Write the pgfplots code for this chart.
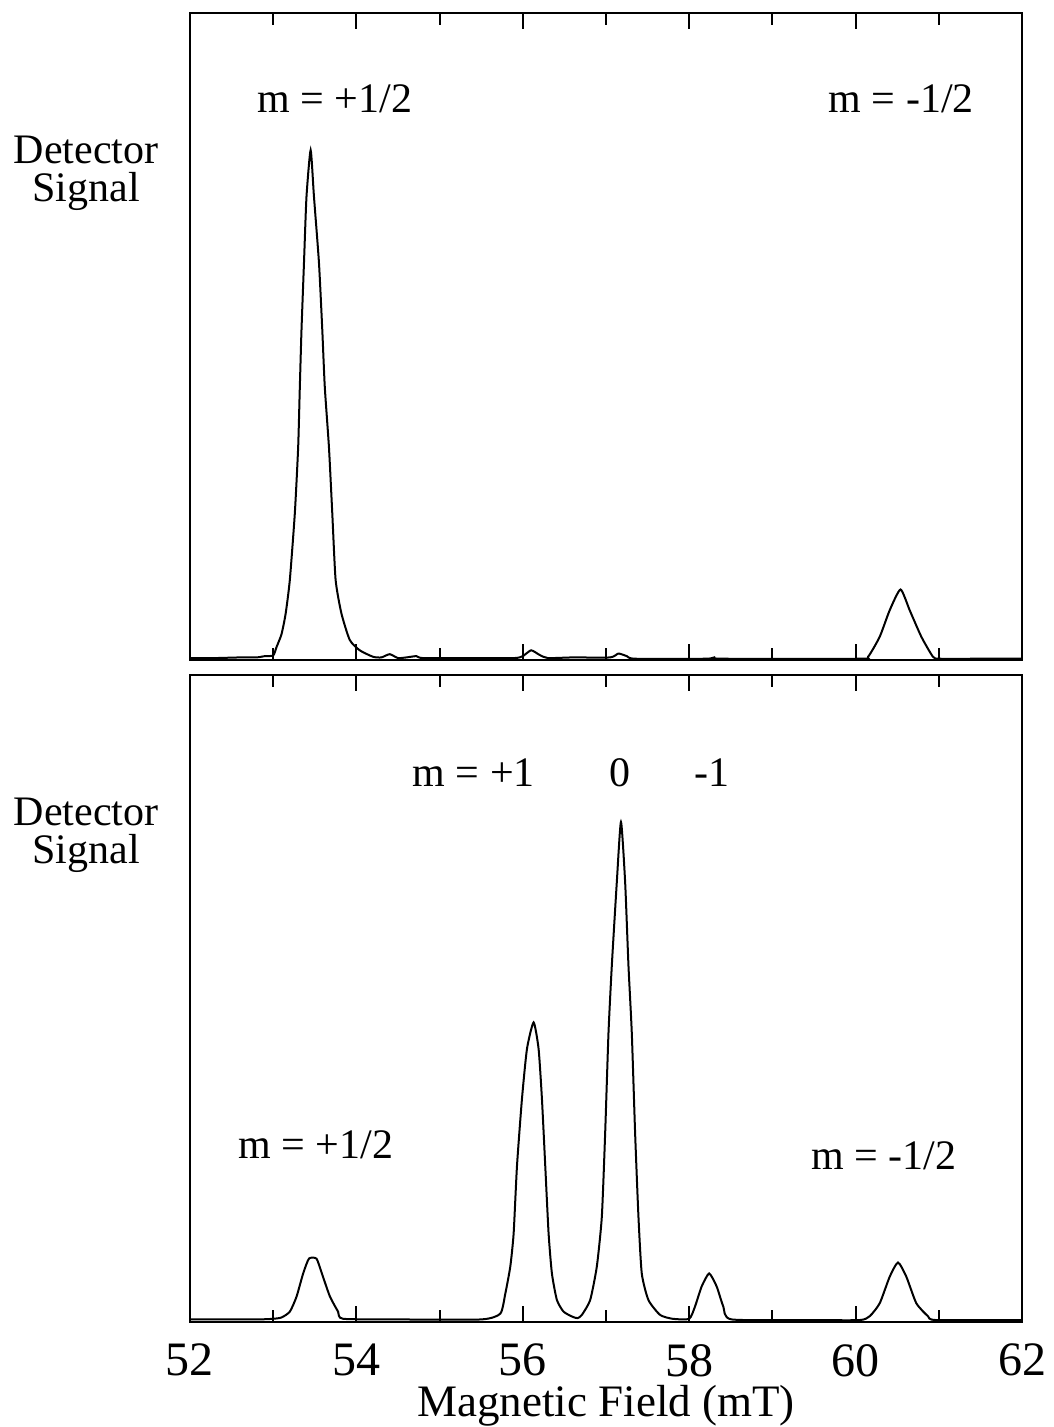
\documentclass[border=0pt]{standalone}
\usepackage{pgfplots}
\pgfplotsset{compat=1.18}
\usepackage{fontspec}
\setmainfont{Liberation Serif}

\pgfplotsset{
  spec/.style={
    scale only axis, width=208pt, height=161.75pt,
    xmin=52, xmax=62, ymin=0, ymax=100,
    ytick=\empty,
    xtick={52,54,...,62}, minor xtick={53,55,...,61},
    tick align=inside,
    major tick length=4pt, minor tick length=3pt,
    every tick/.style={black, line width=0.5pt},
    axis line style={line width=0.6pt},
    /pgf/number format/assume math mode=true,
    tick label style={font=\fontsize{12}{14}\selectfont},
    xticklabel style={yshift=-2pt},
    clip=false,
  },
}
\tikzset{
  sig/.style={black, line width=0.5pt, mark=none, smooth, tension=0.35},
  ann/.style={font=\fontsize{10.5}{12}\selectfont, anchor=base},
}

\begin{document}
\begin{tikzpicture}
\useasboundingbox (0,0) rectangle (263.25pt,-356.75pt);

% upper trace
\begin{axis}[spec, at={(47.5pt,-3.25pt)}, anchor=north west, xticklabels={}]
\addplot[sig] coordinates {
(52.00,0.3) (52.30,0.3) (52.60,0.4) (52.80,0.4) (52.90,0.6) (53.00,0.7)
(53.04,2.0) (53.10,4.0) (53.15,7.2) (53.20,12.4) (53.26,22.7) (53.30,32.9)
(53.32,42.2) (53.34,51.0) (53.37,61.4) (53.40,71.6) (53.45,78.8)
(53.49,71.6) (53.55,61.4) (53.59,51.0) (53.62,42.2) (53.67,32.9)
(53.71,22.7) (53.75,12.4) (53.82,7.2) (53.92,3.1) (54.04,1.5) (54.20,0.5)
(54.30,0.4) (54.40,0.9) (54.50,0.3) (54.60,0.4) (54.72,0.6) (54.80,0.3)
(55.40,0.3) (55.90,0.3) (56.00,0.6) (56.10,1.5) (56.20,0.8) (56.30,0.3)
(56.60,0.4) (57.05,0.4) (57.15,1.0) (57.25,0.6) (57.35,0.2) (58.20,0.2)
(58.30,0.4) (58.40,0.2) (60.05,0.2) (60.15,0.5) (60.29,3.6) (60.41,7.7)
(60.54,10.9) (60.65,7.7) (60.79,3.6) (60.93,0.5) (61.01,0.2) (61.50,0.2)
(62.00,0.2)
};
\node[ann] at (axis cs:53.74,84.7) {m = +1/2};
\node[ann] at (axis cs:60.55,84.7) {m = -1/2};
\end{axis}

% lower trace
\begin{axis}[spec, at={(47.5pt,-168.75pt)}, anchor=north west]
\addplot[sig] coordinates {
(52.00,0.4) (52.80,0.4) (53.00,0.5) (53.10,0.7) (53.20,1.6) (53.28,3.9)
(53.36,7.5) (53.43,9.8) (53.52,9.8) (53.58,7.7) (53.68,4.0) (53.78,1.6)
(53.84,0.5) (54.50,0.4) (55.50,0.4) (55.73,1.3) (55.79,4.4) (55.85,8.6)
(55.89,13.7) (55.93,24.1) (55.99,34.5) (56.05,42.2) (56.13,46.3)
(56.19,42.2) (56.23,34.5) (56.27,24.1) (56.31,13.7) (56.35,7.5)
(56.41,3.4) (56.49,1.6) (56.60,0.8) (56.66,0.6) (56.71,1.1) (56.81,3.4)
(56.89,8.6) (56.95,16.3) (56.99,29.2) (57.03,44.7) (57.07,55.1)
(57.13,68.0) (57.18,77.3) (57.23,68.0) (57.27,55.1) (57.31,44.7)
(57.35,29.2) (57.39,16.3) (57.43,7.5) (57.51,3.4) (57.65,1.1) (57.80,0.5)
(58.00,0.5) (58.07,2.4) (58.15,5.5) (58.24,7.5) (58.33,5.5) (58.41,2.4)
(58.51,0.4) (59.50,0.3) (60.05,0.3) (60.17,0.9) (60.29,2.9) (60.41,7.0)
(60.51,9.2) (60.61,7.0) (60.73,2.9) (60.87,0.9) (60.97,0.3) (62.00,0.3)
};
\node[ann] at (axis cs:55.41,82.7) {m = +1};
\node[ann] at (axis cs:57.17,82.7) {0};
\node[ann] at (axis cs:58.27,82.7) {-1};
\node[ann] at (axis cs:53.51,25.3) {m = +1/2};
\node[ann] at (axis cs:60.34,23.5) {m = -1/2};
\end{axis}

\node[ann] at (21.5pt,-40.75pt) {Detector};
\node[ann] at (21.5pt,-50.25pt) {Signal};
\node[ann] at (21.5pt,-206.25pt) {Detector};
\node[ann] at (21.5pt,-215.75pt) {Signal};
\node[anchor=base, font=\fontsize{11.25}{13}\selectfont] at (151.5pt,-354pt) {Magnetic Field (mT)};
\end{tikzpicture}
\end{document}
